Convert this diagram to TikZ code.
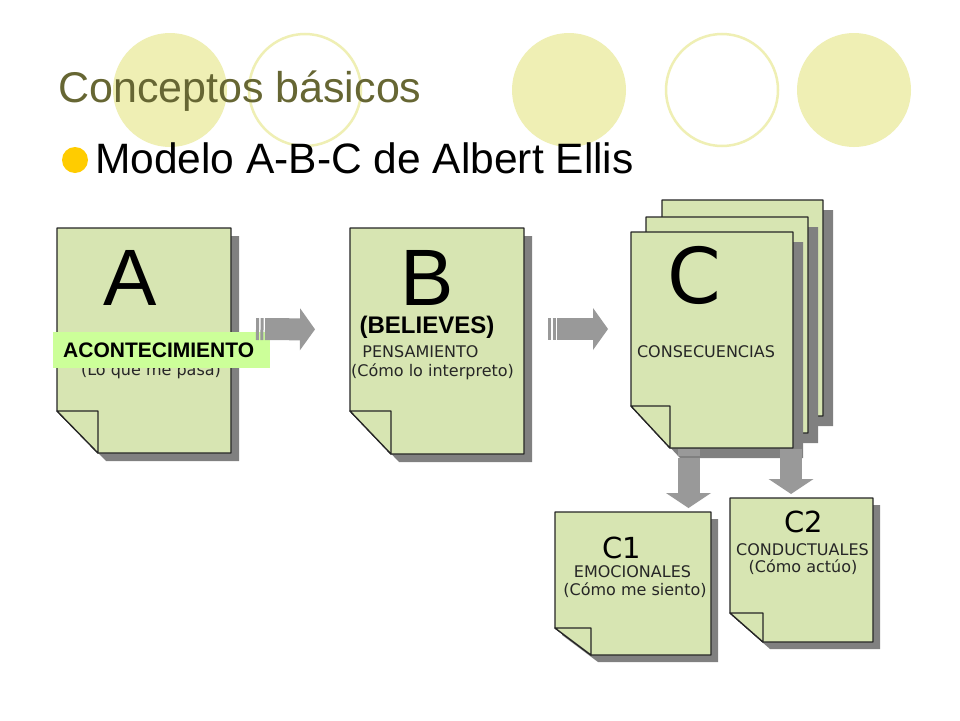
\documentclass[tikz,border=0pt]{standalone}
\usepackage{fontspec}
\setmainfont{Liberation Sans}
\newfontfamily\verd{DejaVu Sans}
\usepackage{xcolor}
\usetikzlibrary{arrows.meta,shadows,calc}

\definecolor{sheetgreen}{RGB}{215,229,178}
\definecolor{taggreen}{RGB}{204,255,153}
\definecolor{dotyellow}{RGB}{239,239,180}
\definecolor{titleolive}{RGB}{102,102,51}
\definecolor{bulletgold}{RGB}{255,204,0}
\definecolor{arrowgray}{RGB}{153,153,153}
\definecolor{shadowgray}{RGB}{128,128,128}

\begin{document}
\begin{tikzpicture}[x=1pt, y=-1pt,
        sheetbox/.style={rectangle, draw=none, inner sep=0pt, outer sep=0pt},
        sheet/.style={draw=black!85, line width=1.3pt, fill=sheetgreen, line join=round,
                      drop shadow={shadow xshift=#1, shadow yshift=-#1, opacity=1, fill=shadowgray}},
        dogear/.style={draw=black!85, line width=1.3pt, fill=sheetgreen, line join=round},
        flow/.style={draw=arrowgray, line width=22pt, -{Triangle[width=#1, length=15pt, line width=0pt]}},
        flow/.default=42pt,
        striped/.style={dash pattern=on 3pt off 1.5pt on 3pt off 1.5pt on 500pt},
        letter/.style={inner sep=0pt, anchor=base, text depth=0pt, font=\fontsize{80}{90}\selectfont},
        word/.style={inner sep=0pt, anchor=base, text=black!85, font=\verd\fontsize{16}{19}\selectfont},
        eventtag/.style={fill=taggreen, text width=197pt, align=left, inner xsep=10pt, inner ysep=0pt,
                         minimum height=36pt, font=\bfseries\fontsize{21}{24}\selectfont}
    ]
    \useasboundingbox (0,0) rectangle (960,720);
    \fill[white] (0,0) rectangle (960,720);

    % Background dots
    \fill[dotyellow] (170,90) circle (57);
    \draw[dotyellow, line width=2.5pt] (305,90) circle (56);
    \fill[dotyellow] (569,90) circle (57);
    \draw[dotyellow, line width=2.5pt] (722,90) circle (56);
    \fill[dotyellow] (854,90) circle (57);

    % Titles
    \node[inner sep=0pt, anchor=base west, text=titleolive, font=\fontsize{43}{50}\selectfont]
        (title) at (58,102) {Conceptos básicos};
    \fill[bulletgold] (75,160) circle (13);
    \node[inner sep=0pt, anchor=base west, font=\fontsize{42.5}{50}\selectfont]
        (subtitle) at (95,173) {Modelo A-B-C de Albert Ellis};

    % Sheets
    \node[sheetbox, minimum width=174, minimum height=225] (A) at (144,340.5) {};
    \path[sheet=8pt] (A.north west) -- (A.north east) -- (A.south east)
        -- ($(A.south west)+(41,0)$) -- ($(A.south west)+(0,-42)$) -- cycle;
    \draw[dogear] ($(A.south west)+(0,-42)$) -- ++(41,0) -- ++(0,42) -- cycle;

    \node[sheetbox, minimum width=174, minimum height=226] (B) at (437,341) {};
    \path[sheet=8pt] (B.north west) -- (B.north east) -- (B.south east)
        -- ($(B.south west)+(41,0)$) -- ($(B.south west)+(0,-43)$) -- cycle;
    \draw[dogear] ($(B.south west)+(0,-43)$) -- ++(41,0) -- ++(0,43) -- cycle;

    \node[sheetbox, minimum width=161, minimum height=216] (Cback) at (742.5,308) {};
    \path[sheet=10pt] (Cback.north west) -- (Cback.north east) -- (Cback.south east)
        -- ($(Cback.south west)+(39,0)$) -- ($(Cback.south west)+(0,-42)$) -- cycle;
    \node[sheetbox, minimum width=162, minimum height=216] (Cmid) at (727,325) {};
    \path[sheet=10pt] (Cmid.north west) -- (Cmid.north east) -- (Cmid.south east)
        -- ($(Cmid.south west)+(39,0)$) -- ($(Cmid.south west)+(0,-42)$) -- cycle;
    \node[sheetbox, minimum width=162, minimum height=216] (C) at (712,340) {};
    \path[sheet=10pt] (C.north west) -- (C.north east) -- (C.south east)
        -- ($(C.south west)+(39,0)$) -- ($(C.south west)+(0,-42)$) -- cycle;
    \draw[dogear] ($(C.south west)+(0,-42)$) -- ++(39,0) -- ++(0,42) -- cycle;

    \node[sheetbox, minimum width=156, minimum height=143] (C1) at (633,583.5) {};
    \path[sheet=7pt] (C1.north west) -- (C1.north east) -- (C1.south east)
        -- ($(C1.south west)+(36,0)$) -- ($(C1.south west)+(0,-27)$) -- cycle;
    \draw[dogear] ($(C1.south west)+(0,-27)$) -- ++(36,0) -- ++(0,27) -- cycle;

    \node[sheetbox, minimum width=143, minimum height=144] (C2) at (801.5,570) {};
    \path[sheet=7pt] (C2.north west) -- (C2.north east) -- (C2.south east)
        -- ($(C2.south west)+(33,0)$) -- ($(C2.south west)+(0,-29)$) -- cycle;
    \draw[dogear] ($(C2.south west)+(0,-29)$) -- ++(33,0) -- ++(0,29) -- cycle;

    % Sheet texts
    \node[letter] (A-head) at (130,305) {A};
    \node[word] (A-sub) at (151,375) {(Lo que me pasa)};
    \node[eventtag, anchor=west] (event) at (53,350) {ACONTECIMIENTO};

    \node[letter] (B-head) at (427,305) {B};
    \node[inner sep=0pt, anchor=base, font=\bfseries\fontsize{24}{28}\selectfont] (believes) at (427,333) {(BELIEVES)};
    \node[word] (B-name) at (420.5,357) {PENSAMIENTO};
    \node[word] (B-sub) at (432.5,376) {(Cómo lo interpreto)};

    \node[letter, font=\verd\fontsize{77}{90}\selectfont] (C-head) at (694,303) {C};
    \node[word] (C-name) at (706,357) {CONSECUENCIAS};

    \node[word, text=black, font=\verd\fontsize{29}{34}\selectfont] (C1-head) at (622,558) {C1};
    \node[word] (C1-name) at (632.5,577) {EMOCIONALES};
    \node[word] (C1-sub) at (635,595) {(Cómo me siento)};

    \node[word, text=black, font=\verd\fontsize{29}{34}\selectfont] (C2-head) at (803.5,532) {C2};
    \node[word] (C2-name) at (802.5,555) {CONDUCTUALES};
    \node[word] (C2-sub) at (803,572) {(Cómo actúo)};

    % Arrows
    \draw[flow, striped, shorten <=25pt, shorten >=35pt] ([yshift=11.5pt]A.east) -- ([yshift=11.5pt]B.west);
    \draw[flow, striped, shorten <=24pt, shorten >=23pt] ([yshift=12pt]B.east) -- ([yshift=11pt]C.west);
    \coordinate (split1) at ([xshift=-23.5pt]C.south);
    \coordinate (split2) at ([xshift=79pt]C.south);
    \draw[flow=45pt, shorten <=1pt, shorten >=4pt, dash pattern=on 7pt off 2pt on 500pt] (split1) -- (split1 |- C1.north);
    \draw[flow=45pt, shorten <=1pt, shorten >=4pt] (split2) -- (split2 |- C2.north);
\end{tikzpicture}
\end{document}
